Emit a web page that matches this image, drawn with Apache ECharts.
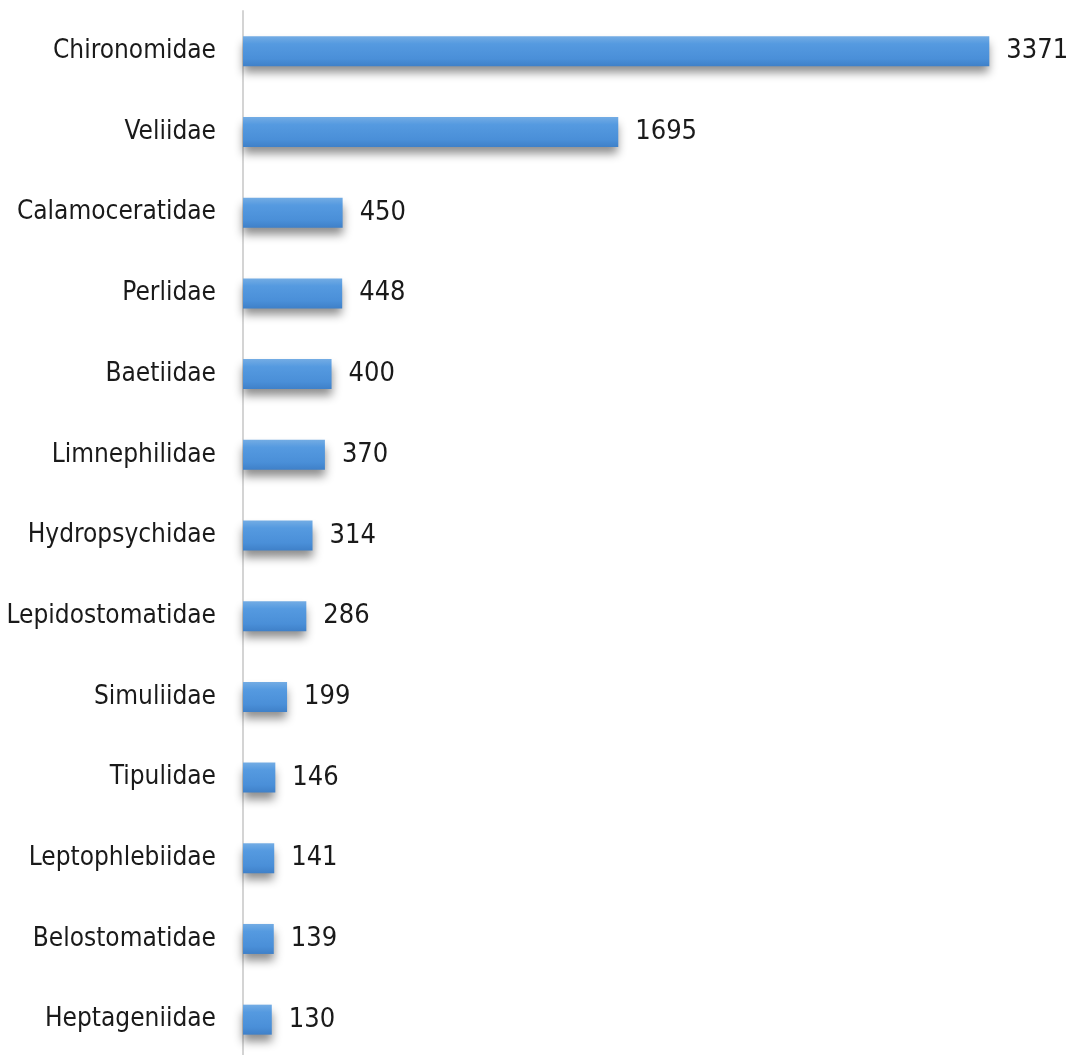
<!DOCTYPE html>
<html>
<head>
<meta charset="utf-8">
<title>Family abundance</title>
<script src="https://cdn.jsdelivr.net/npm/echarts@6/dist/echarts.min.js"></script>
<style>
  html, body { margin: 0; padding: 0; background: #ffffff; }
  #chart { width: 1073px; height: 1055px; }
</style>
</head>
<body>
<div id="chart"></div>
<script>
// Families, listed top to bottom
const families = [
  'Chironomidae', 'Veliidae', 'Calamoceratidae', 'Perlidae', 'Baetiidae',
  'Limnephilidae', 'Hydropsychidae', 'Lepidostomatidae', 'Simuliidae',
  'Tipulidae', 'Leptophlebiidae', 'Belostomatidae', 'Heptageniidae'
];
// Number of individuals per family
const counts = [3371, 1695, 450, 448, 400, 370, 314, 286, 199, 146, 141, 139, 130];

const FONT = '"DejaVu Sans Condensed", "Liberation Sans Narrow", "Liberation Sans", sans-serif';

const chart = echarts.init(document.getElementById('chart'));
chart.setOption({
  animation: false,
  backgroundColor: '#ffffff',
  grid: {
    left: 243, top: 11, width: 797, height: 1049,
    containLabel: false, outerBoundsMode: 'none'
  },
  xAxis: {
    type: 'value',
    min: 0,
    max: 3600,
    show: false
  },
  yAxis: {
    type: 'category',
    data: families,
    inverse: true,
    axisLine: { show: true, lineStyle: { color: '#d4d4d4', width: 2 } },
    axisTick: { show: false },
    axisLabel: {
      margin: 27,
      fontFamily: FONT,
      fontSize: 26,
      color: '#1a1a1a'
    }
  },
  series: [{
    type: 'bar',
    data: counts,
    barWidth: 30,
    itemStyle: {
      color: new echarts.graphic.LinearGradient(0, 0, 0, 1, [
        { offset: 0, color: '#73ace4' },
        { offset: 0.25, color: '#559ae0' },
        { offset: 0.75, color: '#4a8fd8' },
        { offset: 1, color: '#3f80c8' }
      ]),
      shadowColor: 'rgba(0,0,0,0.45)',
      shadowBlur: 9,
      shadowOffsetY: 7,
      shadowOffsetX: 0
    },
    label: {
      show: true,
      position: 'right',
      distance: 17,
      fontFamily: FONT,
      fontSize: 27,
      color: '#1a1a1a'
    }
  }]
});
</script>
</body>
</html>
